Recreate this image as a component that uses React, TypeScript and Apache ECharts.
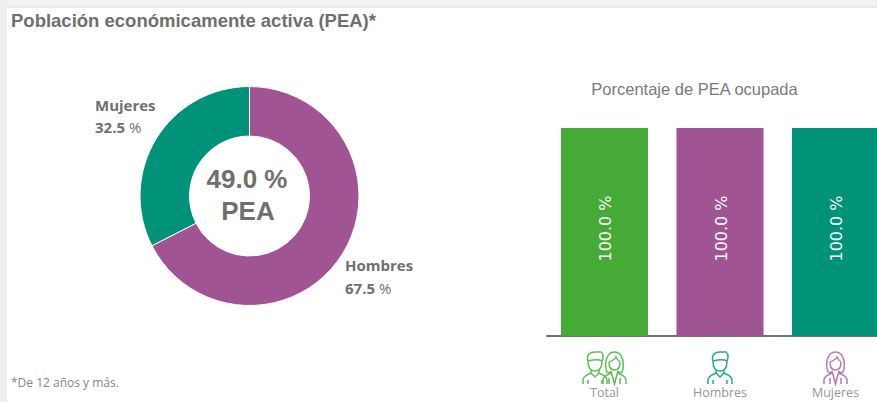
import React, { useEffect, useRef } from "react";
import * as echarts from "echarts";

const donutNames = ["Hombres", "Mujeres"];
const donutValues = [67.5, 32.5];
const barCategories = ["Total", "Hombres", "Mujeres"];
const barValues = [100, 100, 100];

const GREEN = "#45AB36";
const PURPLE = "#A05493";
const TEAL = "#009379";
const TEXT = "#6F6F6F";

const MAN =
  "M6 10 C4 4 8 1 13 1 L19 1 C22 3 21 8 20 10 C17 8 10 9 6 10 Z M6 10 C6 17 8 20 13 20 C18 20 20 17 20 10 M9 19 L9 22 L13 26 L17 22 L17 19 M9 22 C5 24 1 25 1 29 L1 33 M17 22 C21 24 25 25 25 29 L25 33 M6 33 L6 29 M20 33 L20 29";
const WOMAN =
  "M5 21 C2 13 4 1 12.5 1 C21 1 23 13 20 21 C18 22 16.5 22 16 20 M5 21 C7 22 8.5 22 9 20 M7 11 C10 10 13 8 14 6 C15 8 16.5 10 18 11 M7 11 C7 16 9 19 12.5 19 C16 19 18 16 18 11 M9 20 L12.5 33 L16 20 M9 22 C5 24 1 25 1 29 L1 33 M16 22 C20 24 24 25 24 29 L24 33 M7 33 L7 27 M18 33 L18 27";
echarts.graphic.registerShape("manIcon", echarts.graphic.extendPath(MAN, {}));
echarts.graphic.registerShape("womanIcon", echarts.graphic.extendPath(WOMAN, {}));

const icon = (type: string, x: number, color: string) => ({
  type,
  x,
  y: 351,
  silent: true,
  style: { fill: "none", stroke: color, lineWidth: 1.5 },
});

export default function App() {
  const ref = useRef<HTMLDivElement>(null);
  useEffect(() => {
    const chart = echarts.init(ref.current!, undefined, { renderer: "svg" });
    chart.setOption({
      animation: false,
      backgroundColor: "#fff",
      title: [
        {
          text: "Población económicamente activa (PEA)*",
          left: 6,
          top: 6,
          textStyle: { fontFamily: "Liberation Sans", fontSize: 18.5, fontWeight: "bold", color: TEXT },
        },
        {
          text: "Porcentaje de PEA ocupada",
          left: 689.5,
          top: 75,
          textAlign: "center",
          textStyle: { fontFamily: "Liberation Sans", fontSize: 16.5, fontWeight: "normal", color: "#7a7a7a" },
        },
        {
          text: "*De 12 años y más.",
          left: 6,
          top: 371,
          textStyle: { fontFamily: "Open Sans", fontSize: 12, fontWeight: "normal", color: "#858585" },
        },
        {
          text: "49.0 %",
          left: 242,
          top: 161,
          textAlign: "center",
          textStyle: { fontFamily: "Liberation Sans", fontSize: 26, fontWeight: "bold", color: TEXT },
        },
        {
          text: "PEA",
          left: 243,
          top: 193,
          textAlign: "center",
          textStyle: { fontFamily: "Liberation Sans", fontSize: 26, fontWeight: "bold", color: TEXT },
        },
      ],
      grid: { left: 546.75, top: 128, width: 346.5, height: 208, outerBoundsMode: "none" },
      xAxis: {
        type: "category",
        data: barCategories,
        axisTick: { show: false },
        axisLine: { lineStyle: { color: "#444", width: 1.5 } },
        axisLabel: { fontFamily: "Open Sans", fontSize: 12.5, color: "#969696", margin: 50, interval: 0 },
      },
      yAxis: { type: "value", min: 0, max: 100, show: false },
      series: [
        {
          type: "pie",
          center: [249.5, 196],
          radius: [60, 109.5],
          startAngle: 90,
          clockwise: true,
          data: donutNames.map((name, i) => ({
            name,
            value: donutValues[i],
            itemStyle: { color: i === 0 ? PURPLE : TEAL },
          })),
          itemStyle: { borderColor: "#fff", borderWidth: 1 },
          labelLine: { show: false },
          label: {
            show: true,
            position: "outside",
            formatter: (p: any) => `{n|${p.name}}\n{v|${p.value.toFixed(1)}}{u| %}`,
            rich: {
              n: { fontFamily: "Open Sans", fontSize: 15, fontWeight: "bold", color: TEXT, lineHeight: 22.5 },
              v: { fontFamily: "Open Sans", fontSize: 15, fontWeight: "bold", color: TEXT, lineHeight: 22.5 },
              u: { fontFamily: "Open Sans", fontSize: 15, color: TEXT, lineHeight: 22.5 },
            },
          },
          labelLayout: (p: any) =>
            p.dataIndex === 0
              ? { x: 345, y: 276.5, align: "left", verticalAlign: "middle" }
              : { x: 95, y: 116, align: "left", verticalAlign: "middle" },
        },
        {
          type: "bar",
          barWidth: 87,
          data: barValues.map((value, i) => ({
            value,
            itemStyle: { color: [GREEN, PURPLE, TEAL][i] },
          })),
          label: {
            show: true,
            position: "inside",
            rotate: 90,
            offset: [3.5, 1],
            formatter: (p: any) => `${p.value.toFixed(1)} %`,
            fontFamily: "DejaVu Sans",
            fontSize: 16,
            color: "#fff",
          },
        },
      ],
      graphic: [
        { type: "rect", z: -1, silent: true, shape: { x: 0, y: 0, width: 877, height: 6 }, style: { fill: "#f2f2f2" } },
        { type: "rect", z: -1, silent: true, shape: { x: 0, y: 6, width: 877, height: 2 }, style: { fill: "#e9e9e9" } },
        { type: "rect", z: -1, silent: true, shape: { x: 0, y: 0, width: 7, height: 402 }, style: { fill: "#efefef" } },
        icon("manIcon", 582, "#62BC58"),
        icon("womanIcon", 602, "#62BC58"),
        icon("manIcon", 707, "#2BA593"),
        icon("womanIcon", 823, "#B77BAB"),
      ],
    });
    return () => chart.dispose();
  }, []);
  return <div ref={ref} style={{ position: "fixed", left: 0, top: 0, width: 877, height: 402 }} />;
}
